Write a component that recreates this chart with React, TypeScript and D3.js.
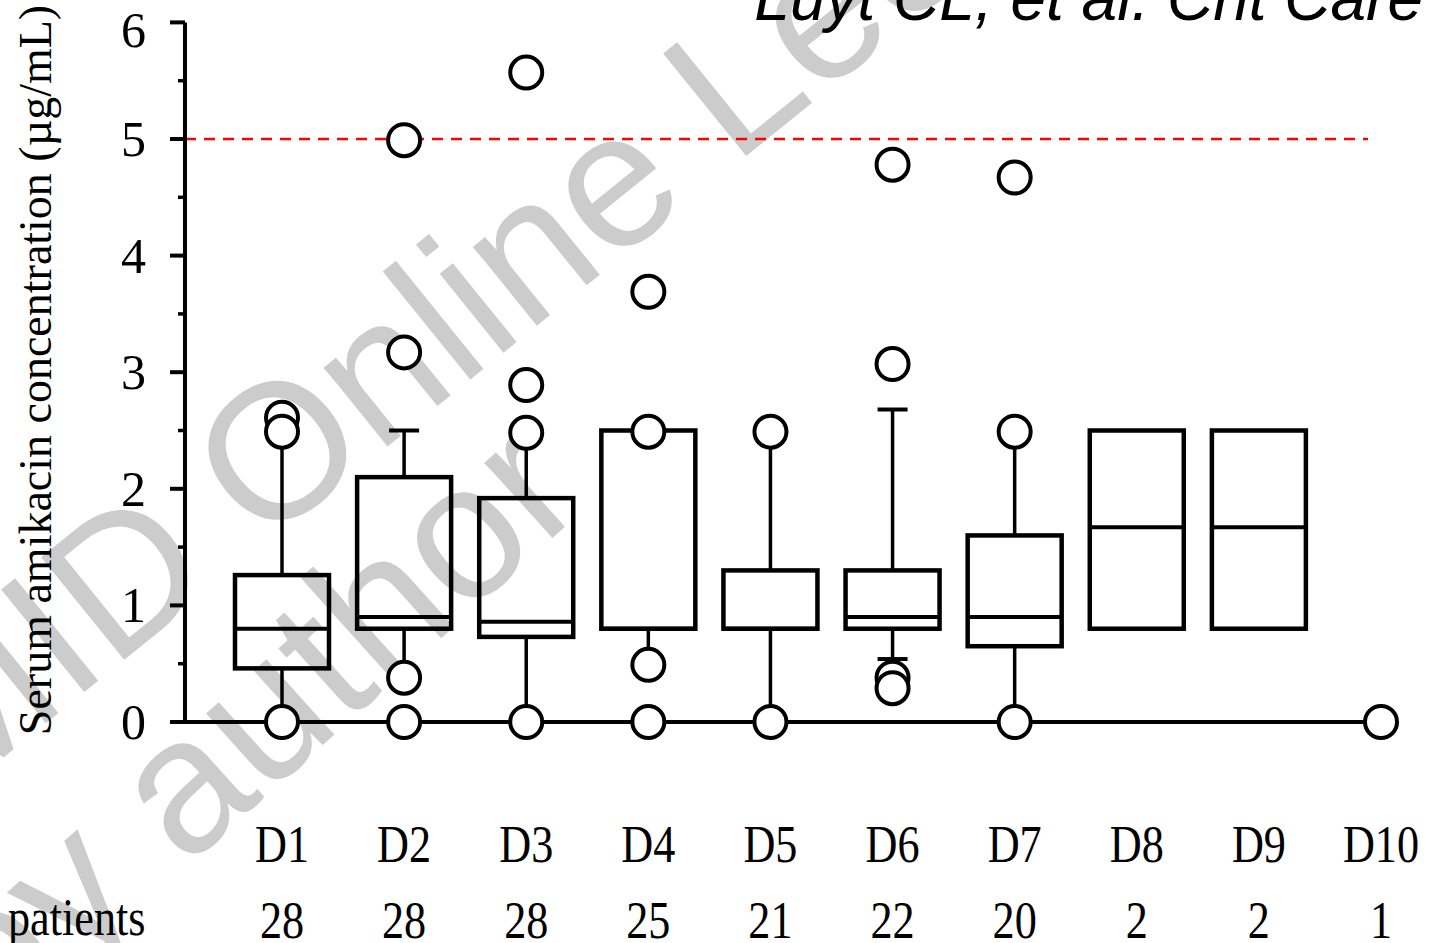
import React from "react";
import * as d3 from "d3";

const categories = ["D1", "D2", "D3", "D4", "D5", "D6", "D7", "D8", "D9", "D10"];
const patients = [28, 28, 28, 25, 21, 22, 20, 2, 2, 1];
const q1 = [0.46, 0.8, 0.73, 0.8, 0.8, 0.8, 0.65, 0.8, 0.8, null];
const medians = [0.8, 0.9, 0.86, 0.8, 0.8, 0.9, 0.9, 1.67, 1.67, null];
const q3 = [1.26, 2.1, 1.92, 2.5, 1.3, 1.3, 1.6, 2.5, 2.5, null];
const whiskerLow = [0, 0.38, 0, 0.49, 0, 0.54, 0, null, null, null];
const whiskerHigh = [2.49, 2.5, 2.48, 2.5, 2.49, 2.68, 2.49, null, null, null];
const outliers: number[][] = [
  [2.61, 2.49, 0],
  [4.99, 3.17, 0.38, 0],
  [5.57, 2.89, 2.48, 0],
  [3.69, 2.49, 0.49, 0],
  [2.49, 0],
  [4.78, 3.07, 0.38, 0.29],
  [4.67, 2.49, 0],
  [],
  [],
  [0],
];
const yTicks = [0, 1, 2, 3, 4, 5, 6];
const yMinorTicks = [0.5, 1.5, 2.5, 3.5, 4.5, 5.5];
const threshold = 5;
const yLabel = "Serum amikacin concentration (µg/mL)";
const citation = "Luyt CL, et al. Crit Care";
const watermark1 = "MID Online Lecture";
const watermark2 = "by author";

const W = 1432;
const H = 943;
const serif = "'Liberation Serif', 'Times New Roman', serif";
const sans = "'Liberation Sans', Arial, sans-serif";

export default function App() {
  const y = d3.scaleLinear().domain([0, 6]).range([722, 22.4]);
  const x = d3.scalePoint<string>().domain(categories).range([282, 1381]);
  const axisX = 185;
  const boxW = 94;
  const capW = 30;
  const r = 16;

  return (
    <svg width={W} height={H} style={{ position: "absolute", left: 0, top: 0, background: "#fff" }}>
      <rect x={0} y={0} width={W} height={H} fill="#fff" />
      {/* watermark */}
      <g fill="#cccccc" fontFamily={sans} fontSize={192}>
        <text transform={`translate(261,549) rotate(-39)`} x={-405}>{watermark1}</text>
        <text transform={`translate(-5,1040) rotate(-42)`}>{watermark2}</text>
      </g>
      {/* citation */}
      <text x={1423} y={20} textAnchor="end" fontFamily={sans} fontStyle="italic" fontSize={64} fill="#000">
        {citation}
      </text>
      {/* threshold */}
      <line x1={axisX} x2={1368} y1={y(threshold)} y2={y(threshold)} stroke="#ff0000" strokeWidth={2.5} strokeDasharray="11 8" />
      {/* y axis */}
      <line x1={axisX} x2={axisX} y1={y(6)} y2={y(0)} stroke="#000" strokeWidth={4} />
      {yTicks.map((t) => (
        <g key={"t" + t}>
          <line x1={170} x2={axisX} y1={y(t)} y2={y(t)} stroke="#000" strokeWidth={4} />
          <text x={146} y={y(t) + 17 + (t === 6 ? 8 : 0)} textAnchor="end" fontFamily={serif} fontSize={50} fill="#000">
            {t}
          </text>
        </g>
      ))}
      {yMinorTicks.map((t) => (
        <line key={"m" + t} x1={178} x2={axisX} y1={y(t)} y2={y(t)} stroke="#000" strokeWidth={3.5} />
      ))}
      <text
        transform={`translate(51,${370}) rotate(-90)`}
        textAnchor="middle"
        fontFamily={serif}
        fontSize={46}
        fill="#000"
      >
        {yLabel}
      </text>
      {/* x axis */}
      <line x1={axisX - 2} x2={x("D10")!} y1={y(0)} y2={y(0)} stroke="#000" strokeWidth={4} />
      {/* boxes */}
      {categories.map((c, i) => {
        const cx = x(c)!;
        const els: React.ReactNode[] = [];
        if (whiskerLow[i] != null && q1[i] != null) {
          els.push(<line key="wl" x1={cx} x2={cx} y1={y(q1[i]!)} y2={y(whiskerLow[i]!)} stroke="#000" strokeWidth={3.5} />);
          els.push(<line key="cl" x1={cx - capW / 2} x2={cx + capW / 2} y1={y(whiskerLow[i]!)} y2={y(whiskerLow[i]!)} stroke="#000" strokeWidth={4} />);
        }
        if (whiskerHigh[i] != null && q3[i] != null) {
          els.push(<line key="wh" x1={cx} x2={cx} y1={y(q3[i]!)} y2={y(whiskerHigh[i]!)} stroke="#000" strokeWidth={3.5} />);
          els.push(<line key="ch" x1={cx - capW / 2} x2={cx + capW / 2} y1={y(whiskerHigh[i]!)} y2={y(whiskerHigh[i]!)} stroke="#000" strokeWidth={4} />);
        }
        if (q1[i] != null && q3[i] != null) {
          els.push(
            <rect key="b" x={cx - boxW / 2} y={y(q3[i]!)} width={boxW} height={y(q1[i]!) - y(q3[i]!)} fill="none" stroke="#000" strokeWidth={4.5} />
          );
        }
        if (medians[i] != null) {
          els.push(<line key="md" x1={cx - boxW / 2} x2={cx + boxW / 2} y1={y(medians[i]!)} y2={y(medians[i]!)} stroke="#000" strokeWidth={4} />);
        }
        outliers[i].forEach((v, j) => {
          els.push(<circle key={"o" + j} cx={cx} cy={y(v)} r={r} fill="#fff" stroke="#000" strokeWidth={4} />);
        });
        return <g key={c}>{els}</g>;
      })}
      {/* x labels */}
      {categories.map((c, i) => (
        <g key={"lab" + c}>
          <text transform={`translate(${x(c)},862) scale(0.85,1)`} textAnchor="middle" fontFamily={serif} fontSize={52} fill="#000">
            {c}
          </text>
          <text transform={`translate(${x(c)},938) scale(0.85,1)`} textAnchor="middle" fontFamily={serif} fontSize={52} fill="#000">
            {patients[i]}
          </text>
        </g>
      ))}
      <text transform={`translate(8,935) scale(0.85,1)`} fontFamily={serif} fontSize={52} fill="#000">
        patients
      </text>
    </svg>
  );
}
